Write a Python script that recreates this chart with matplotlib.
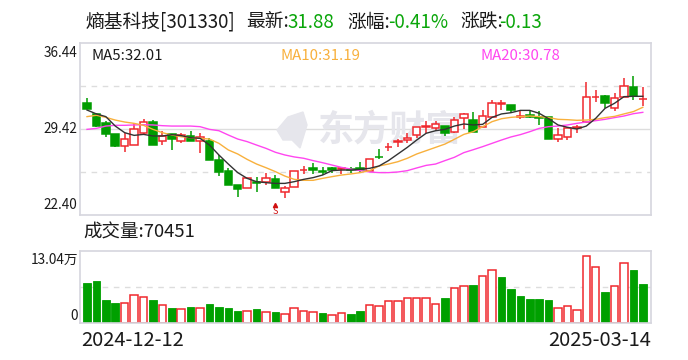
import matplotlib
matplotlib.use("Agg")
import matplotlib.pyplot as plt
from matplotlib.patches import Polygon

plt.rcParams["font.family"] = ["Noto Sans CJK SC", "DejaVu Sans"]

W, H = 688, 360

opens = [31.54, 30.65, 29.91, 29.01, 28.06, 28.14, 29.12, 29.99, 28.41, 28.98,
         28.47, 28.82, 28.47, 28.44, 26.89, 25.99, 24.85, 24.63, 25.07, 25.07,
         25.31, 24.28, 24.69, 26.07, 26.21, 25.99, 26.21, 26.18, 26.18, 26.21,
         25.99, 27.16, 27.95, 28.33, 28.52, 28.93, 29.61, 29.47, 29.66, 29.15,
         30.29, 30.15, 29.56, 30.43, 31.49, 31.38, 30.37, 30.54, 30.43, 30.37,
         28.63, 28.74, 29.53, 30.02, 32.00, 32.09, 31.11, 32.03, 32.82, 31.88]
highs = [31.95, 30.70, 30.07, 29.01, 29.07, 29.88, 30.24, 30.15, 29.26, 28.98,
         29.07, 29.26, 29.07, 28.71, 27.30, 26.24, 24.85, 25.39, 25.53, 25.83,
         25.66, 24.77, 25.96, 26.40, 26.62, 26.32, 26.34, 26.34, 26.34, 26.73,
         26.94, 27.76, 28.25, 28.60, 29.07, 29.56, 30.07, 30.07, 29.66, 30.37,
         30.75, 30.84, 30.97, 31.79, 31.79, 31.38, 30.92, 30.92, 30.92, 30.43,
         29.47, 29.56, 29.75, 33.23, 32.60, 32.20, 32.33, 33.58, 33.75, 32.82]
lows = [31.05, 29.56, 28.77, 27.98, 27.54, 28.14, 28.93, 28.09, 28.11, 27.71,
        28.30, 28.47, 27.43, 26.89, 25.58, 24.82, 23.87, 24.63, 24.28, 24.85,
        24.60, 23.79, 24.69, 25.75, 25.75, 25.69, 25.80, 25.75, 25.86, 25.94,
        25.99, 26.94, 27.62, 27.98, 28.30, 28.71, 29.07, 29.28, 28.88, 29.07,
        29.39, 29.20, 29.56, 30.29, 30.97, 30.75, 30.24, 30.29, 29.75, 28.58,
        28.39, 28.52, 29.12, 29.88, 31.60, 31.11, 30.92, 32.00, 31.79, 31.32]
closes = [31.05, 29.66, 29.01, 28.03, 28.58, 29.39, 29.96, 28.11, 28.88, 28.60,
          28.96, 28.47, 28.74, 26.89, 25.91, 24.85, 24.52, 25.39, 25.05, 25.39,
          24.60, 24.58, 25.96, 26.09, 26.10, 25.91, 26.07, 26.24, 26.07, 26.10,
          26.94, 27.11, 27.98, 28.47, 28.68, 29.56, 29.69, 29.80, 29.07, 30.13,
          30.65, 29.20, 30.45, 31.52, 31.54, 31.00, 30.45, 30.43, 30.35, 28.63,
          28.90, 29.47, 29.56, 32.00, 32.06, 31.57, 31.92, 32.90, 32.11, 31.90]

ma5 = [30.97, 30.65, 30.43, 29.66, 29.12, 28.90, 28.98, 28.85, 28.85, 28.96,
       28.88, 28.71, 28.66, 28.11, 27.30, 26.56, 25.86, 25.39, 25.12, 25.04,
       24.98, 24.98, 25.12, 25.31, 25.45, 25.66, 26.02, 26.07, 26.07, 26.13,
       26.21, 26.40, 26.84, 27.38, 27.92, 28.52, 29.07, 29.28, 29.39, 29.66,
       29.83, 29.75, 29.80, 30.37, 30.65, 30.75, 30.94, 30.94, 30.70, 30.26,
       29.75, 29.56, 29.42, 29.66, 30.29, 31.11, 31.52, 32.06, 32.09, 32.09]
ma10 = [30.43, 30.54, 30.37, 30.15, 29.99, 29.88, 29.72, 29.39, 29.12, 28.93,
        28.79, 28.71, 28.66, 28.60, 28.25, 27.71, 27.38, 26.94, 26.56, 26.26,
        25.94, 25.58, 25.31, 25.23, 25.23, 25.39, 25.53, 25.66, 25.75, 25.86,
        26.02, 26.40, 26.56, 26.75, 27.03, 27.38, 27.65, 27.92, 28.19, 28.58,
        28.98, 29.20, 29.61, 30.02, 30.26, 30.37, 30.43, 30.48, 30.43, 30.35,
        30.21, 30.18, 30.13, 30.15, 30.21, 30.35, 30.45, 30.65, 30.84, 31.19]
ma20 = [29.39, 29.47, 29.66, 29.72, 29.72, 29.75, 29.77, 29.75, 29.69, 29.66,
        29.66, 29.66, 29.61, 29.39, 29.28, 28.93, 28.60, 28.39, 28.11, 27.84,
        27.52, 27.30, 27.14, 27.03, 26.84, 26.67, 26.48, 26.29, 26.15, 26.02,
        25.91, 25.86, 25.86, 25.91, 26.02, 26.24, 26.45, 26.56, 26.84, 27.11,
        27.49, 27.73, 27.98, 28.25, 28.52, 28.77, 28.96, 29.20, 29.47, 29.61,
        29.66, 29.75, 29.88, 29.99, 30.10, 30.21, 30.35, 30.48, 30.67, 30.78]

# volume in units of 10k
volumes = [7.82, 8.22, 4.50, 3.91, 3.91, 5.48, 5.09, 4.50, 3.52, 2.93,
           2.74, 3.13, 2.93, 3.72, 3.13, 2.93, 2.35, 2.35, 2.74, 2.15,
           2.15, 1.76, 2.93, 2.35, 2.15, 1.96, 1.56, 1.96, 1.76, 2.35,
           3.52, 3.26, 4.30, 4.30, 4.89, 4.89, 4.89, 3.72, 4.89, 6.85,
           7.24, 7.43, 9.19, 10.37, 9.00, 6.65, 5.28, 4.69, 4.69, 4.50,
           2.87, 3.26, 2.48, 13.04, 10.89, 6.06, 7.24, 11.67, 10.37, 7.63]
vol_green = [0, 1, 2, 3, 7, 9, 11, 13, 14, 15, 16, 18, 20, 25, 28, 29, 38, 41,
             44, 45, 46, 47, 48, 49, 55, 58, 59]

price_labels = ["36.44", "29.42", "22.40"]
vol_labels = ["13.04万", "0"]
date_labels = ["2024-12-12", "2025-03-14"]

RED = "#f0282d"
GREEN = "#009c00"
BORDER = "#d6d6de"
GRID = "#dddddd"
TEXT = "#1a1a1a"
MARK = "#e6e6ec"


def add_axes(left, top, right, bottom):
    a = fig.add_axes([left / W, 1 - bottom / H, (right - left) / W, (bottom - top) / H])
    for s in a.spines.values():
        s.set_color(BORDER)
        s.set_linewidth(1.2)
    a.set_xticks([])
    a.set_yticks([])
    a.set_xlim(-0.743, 59.87)
    return a


def put(x, y, s, size, color=TEXT, ha="left"):
    fig.text(x / W, 1 - y / H, s, fontsize=size, color=color, ha=ha, va="center")


fig = plt.figure(figsize=(W / 100, H / 100), dpi=100)
ax = add_axes(80, 43, 651, 215)
ax.set_ylim(22.40, 36.44)
ax.axhline(29.42, color=GRID, lw=1, zorder=0)
ax.axhline(32.93, color=GRID, lw=1, ls=(0, (4, 4)), zorder=0)
ax.axhline(25.91, color=GRID, lw=1, ls=(0, (4, 4)), zorder=0)

# watermark
ax.text(24.5, 29.3, "东方财富", fontsize=26, fontweight="bold", color=MARK,
        ha="left", va="center", zorder=0.5)
fig.add_artist(Polygon([(277 / W, 1 - 130 / H), (288 / W, 1 - 117 / H), (303 / W, 1 - 112 / H),
                        (307 / W, 1 - 125 / H), (300 / W, 1 - 148 / H), (292 / W, 1 - 140 / H),
                        (283 / W, 1 - 140 / H)],
                       closed=True, color=MARK, transform=fig.transFigure, zorder=0.5))
ax.patch.set_alpha(0)

for i in range(len(opens)):
    up = closes[i] >= opens[i]
    c = RED if up else GREEN
    top = max(opens[i], closes[i])
    bottom = min(opens[i], closes[i])
    ax.vlines(i, lows[i], highs[i], color=c, lw=1.1, zorder=2)
    ax.bar(i, top - bottom, bottom=bottom, width=0.8, facecolor="white" if up else c,
           edgecolor=c, lw=1.1, zorder=3)

xs = list(range(len(opens)))
ax.plot(xs, ma20, color="#ff46f0", lw=1, zorder=4)
ax.plot(xs, ma10, color="#f8b03c", lw=1, zorder=5)
ax.plot(xs, ma5, color="#333333", lw=1, zorder=6)

# sell mark
ax.plot([20], [23.2], marker="^", ms=3, color="#d01010", zorder=6)
ax.text(20, 22.72, "S", color="#d01010", fontsize=6.5, ha="center", va="center", zorder=6)

ax2 = add_axes(80, 251, 651, 323)
ax2.set_ylim(0, 14.08)
ax2.axhline(7.04, color=GRID, lw=1, ls=(0, (4, 4)), zorder=0)
for i, v in enumerate(volumes):
    if i in vol_green:
        ax2.bar(i, v, width=0.8, color="#00a000", edgecolor="#00a000", lw=0.6, zorder=2)
    else:
        ax2.bar(i, v, width=0.8, facecolor="white", edgecolor=RED, lw=1.1, zorder=2)

# header
put(86, 22, "熵基科技[301330]", 13.5)
put(246, 22, "最新:", 13.5)
put(287, 22, "31.88", 13.5, color="#0aa60a")
put(347, 22, "涨幅:", 13.5)
put(388, 22, "-0.41%", 13.5, color="#0aa60a")
put(460, 22, "涨跌:", 13.5)
put(499, 22, "-0.13", 13.5, color="#0aa60a")

put(91, 56, "MA5:32.01", 10.8)
put(281, 56, "MA10:31.19", 10.8, color="#f8b03c")
put(481, 56, "MA20:30.78", 10.8, color="#ff46f0")

put(77, 53, price_labels[0], 9.8, ha="right")
put(77, 129, price_labels[1], 9.8, ha="right")
put(77, 205, price_labels[2], 9.8, ha="right")

put(83, 233, "成交量:70451", 13.3)
put(78, 260, vol_labels[0], 9.8, ha="right")
put(78, 316, vol_labels[1], 9.8, ha="right")
put(81, 340, date_labels[0], 14.5)
put(651, 340, date_labels[1], 14.5, ha="right")

fig.savefig("out.png", dpi=100)
